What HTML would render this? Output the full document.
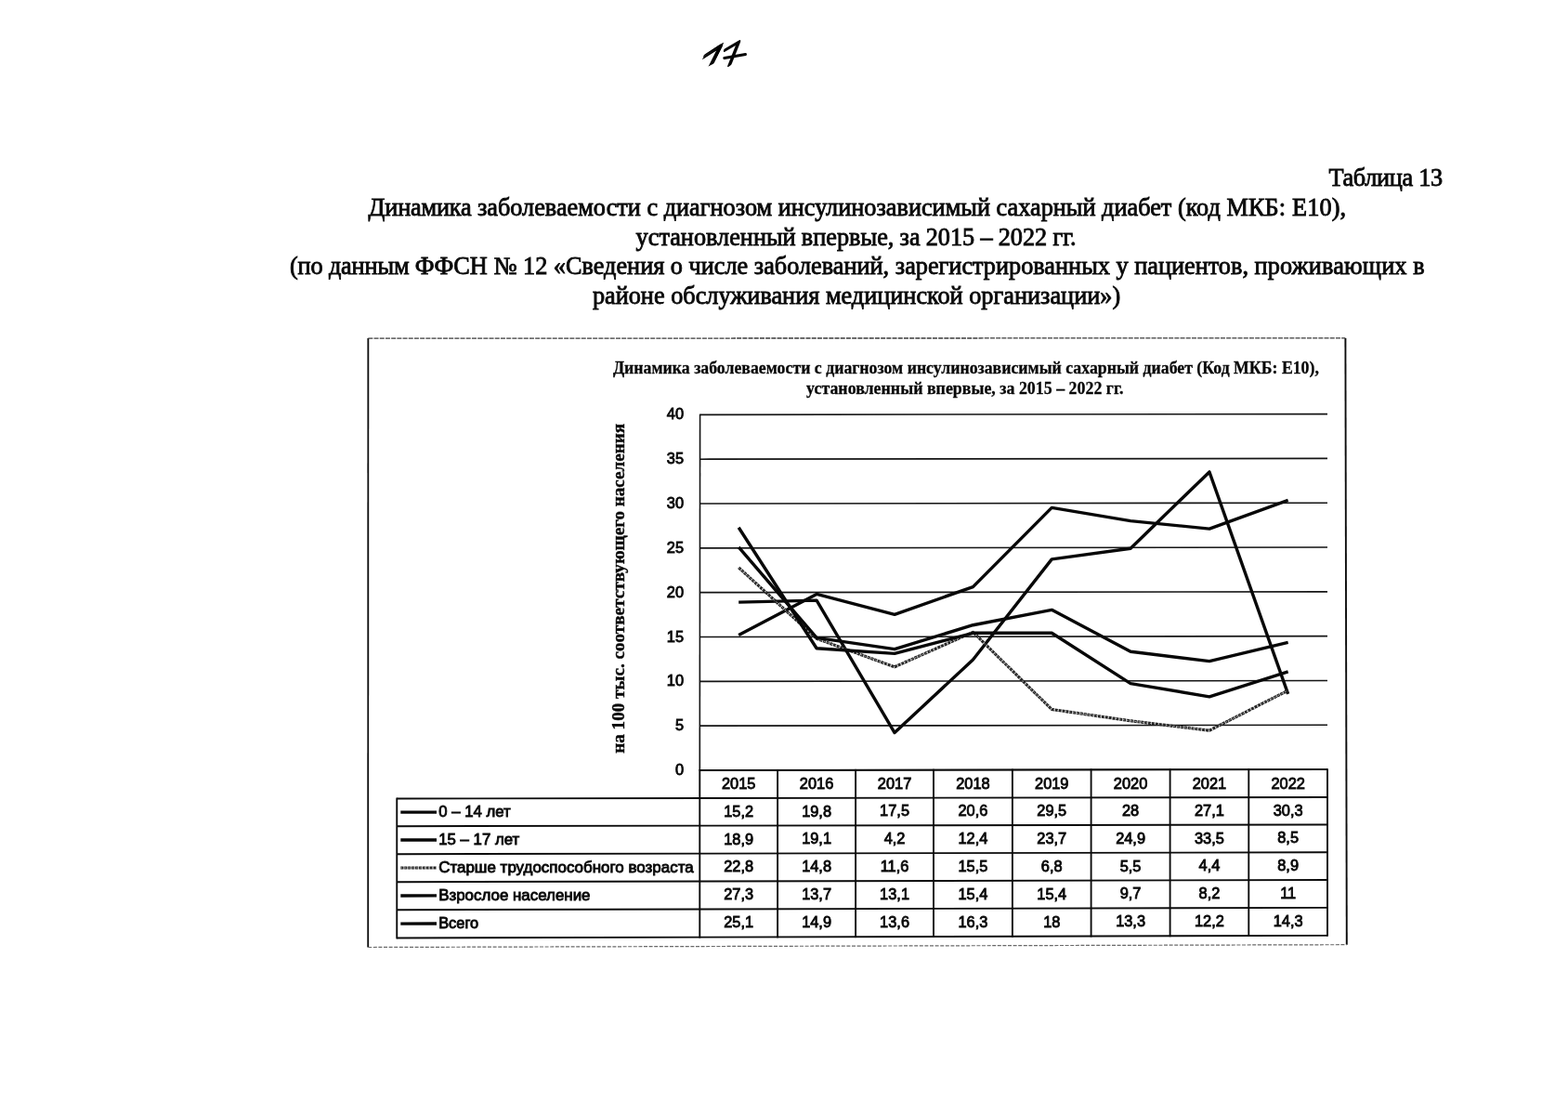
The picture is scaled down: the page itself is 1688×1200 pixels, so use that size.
<!DOCTYPE html>
<html lang="ru">
<head>
<meta charset="utf-8">
<title>Таблица 13</title>
<style>
html,body{margin:0;padding:0;background:#fff;}
body{width:1688px;height:1200px;position:relative;overflow:hidden;font-family:"Liberation Serif",serif;color:#111;}
.hd{position:absolute;margin:0;white-space:nowrap;font-size:26.285px;line-height:32px;font-weight:normal;color:#0a0a0a;-webkit-text-stroke:0.85px #0a0a0a;}
svg{position:absolute;left:0;top:0;}
.grid line{stroke:#141414;stroke-width:1.6;}
.tbl line{stroke:#0c0c0c;stroke-width:1.9;}
.ser polyline{fill:none;stroke:#080808;stroke-width:3.4;stroke-linejoin:round;stroke-linecap:butt;}
.ser .dim{stroke:#242424;stroke-width:3.1;stroke-dasharray:3.2 0.7;}
.ser .dimc{stroke:#bdbdbd;stroke-width:0.9;stroke-dasharray:1.6 2.6;}
.lab{font-family:"Liberation Sans",sans-serif;font-size:16.4px;fill:#080808;stroke:#080808;stroke-width:0.85;}
.ttl{font-family:"Liberation Serif",serif;font-weight:bold;font-size:18.2px;fill:#080808;stroke:#080808;stroke-width:0.3;}
.ttl.v{stroke-width:0.4;}
.pageno{font-family:"DejaVu Sans",sans-serif;}
</style>
</head>
<body>
<svg class="pn" width="1688" height="1200" viewBox="0 0 1688 1200">
<defs>
<clipPath id="nofoot"><rect transform="matrix(2.4667 -1.2833 -0.6017 1.2027 738.33 87.95)" x="-10" y="-40" width="60" height="35.6"/></clipPath>
<filter id="pen" x="-20%" y="-20%" width="140%" height="140%"><feOffset in="SourceGraphic" dx="-0.94" dy="1.88" result="a"/><feOffset in="SourceGraphic" dx="-0.47" dy="0.94" result="b"/><feOffset in="SourceGraphic" dx="0.47" dy="-0.94" result="c"/><feOffset in="SourceGraphic" dx="0.94" dy="-1.88" result="d"/><feMerge><feMergeNode in="a"/><feMergeNode in="b"/><feMergeNode in="SourceGraphic"/><feMergeNode in="c"/><feMergeNode in="d"/></feMerge></filter>
</defs>
<g class="pageno" font-weight="200" font-size="30" fill="#050505" stroke="#050505" stroke-linejoin="round">
<g filter="url(#pen)" clip-path="url(#nofoot)"><text transform="matrix(2.4667 -1.2833 -0.6017 1.2027 738.33 87.95)" stroke-width="0.25">1</text></g><text transform="matrix(1.1567 -0.6767 -0.0140 0.8990 777.35 74.77)" stroke-width="2.5">7</text>
<line x1="779.8" y1="62.6" x2="802.5" y2="58.5" stroke-width="3" stroke-linecap="round"/>
</g>
</svg>
<p class="hd" style="left:1430.4px;top:175.6px;letter-spacing:-0.3px">Таблица 13</p>
<p class="hd" style="left:396.5px;top:207.6px"><span style="letter-spacing:-0.17px">Динамика </span>заболеваемости с диагнозом инсулинозависимый сахарный диабет (код <span style="letter-spacing:0.15px">МКБ: Е10),</span></p>
<p class="hd" style="left:684.6px;top:239.6px;word-spacing:-0.4px">установленный впервые, за 2015 – 2022 гг.</p>
<p class="hd" style="left:312px;top:270.6px"><span style="letter-spacing:-0.15px">(по данным </span>ФФСН № 12 «Сведения о числе заболеваний, зарегистрированных у пациентов, <span style="letter-spacing:0.13px">проживающих в</span></p>
<p class="hd" style="left:637.9px;top:302.1px;transform:translateY(0.5px)">районе обслуживания медицинской организации»)</p>
<svg width="1688" height="1200" viewBox="0 0 1688 1200">
<g class="frame" fill="none">
<line x1="396.35" y1="364.1" x2="396.2" y2="1019.5" stroke="#0c0c0c" stroke-width="1.8"/>
<line x1="1448.4" y1="363.9" x2="1449.8" y2="1016.7" stroke="#0c0c0c" stroke-width="1.9"/>
<line x1="396.35" y1="364.1" x2="1448.4" y2="363.9" stroke="#3a3a3a" stroke-width="1.3" stroke-dasharray="5 1.2"/>
<line x1="396.2" y1="1019.5" x2="1449.8" y2="1016.7" stroke="#6a6a6a" stroke-width="1.2" stroke-dasharray="4 1.6"/>
</g>
<text class="ttl" x="1039.9" y="401.9" text-anchor="middle" textLength="760" lengthAdjust="spacingAndGlyphs">Динамика заболеваемости с диагнозом инсулинозависимый сахарный диабет (Код МКБ: Е10),</text>
<text class="ttl" x="1038.8" y="423.5" text-anchor="middle" textLength="341.5" lengthAdjust="spacingAndGlyphs">установленный впервые, за 2015 – 2022 гг.</text>
<text class="ttl v" transform="translate(672 810.8) rotate(-90)" x="0" y="0" textLength="355" lengthAdjust="spacingAndGlyphs">на 100 тыс. соответствующего населения</text>
<g class="grid">
<line x1="753.5" y1="829" x2="1429" y2="828.1"/>
<line x1="753.5" y1="781.17" x2="1429" y2="780.29"/>
<line x1="753.5" y1="733.34" x2="1429" y2="732.48"/>
<line x1="753.5" y1="685.51" x2="1429" y2="684.67"/>
<line x1="753.5" y1="637.67" x2="1429" y2="636.85"/>
<line x1="753.5" y1="589.84" x2="1429" y2="589.04"/>
<line x1="753.5" y1="542.01" x2="1429" y2="541.23"/>
<line x1="753.5" y1="494.18" x2="1429" y2="493.42"/>
<line x1="753.5" y1="446.35" x2="1429" y2="445.61"/>
<line x1="753.6" y1="445.65" x2="753.3" y2="829.5"/>
</g>
<g class="lab" text-anchor="end">
<text x="736" y="834">0</text>
<text x="736" y="786.17">5</text>
<text x="736" y="738.34">10</text>
<text x="736" y="690.51">15</text>
<text x="736" y="642.67">20</text>
<text x="736" y="594.84">25</text>
<text x="736" y="547.01">30</text>
<text x="736" y="499.18">35</text>
<text x="736" y="451.35">40</text>
</g>
<g class="ser">
<polyline points="795.2,683.54 879.1,639.44 963.05,661.33 1047.45,631.58 1132.25,546.36 1217.1,560.6 1301.95,569.11 1386.65,538.41"/>
<polyline points="795.2,648.15 879.1,646.13 963.05,788.55 1047.45,710.01 1132.25,601.83 1217.1,590.25 1301.95,507.91 1386.65,746.88"/>
<polyline class="dim" points="795.2,610.84 879.1,687.26 963.05,717.77 1047.45,680.36 1132.25,763.46 1217.1,775.78 1301.95,786.19 1386.65,743.05"/>
<polyline class="dimc" points="795.2,610.84 879.1,687.26 963.05,717.77 1047.45,680.36 1132.25,763.46 1217.1,775.78 1301.95,786.19 1386.65,743.05"/>
<polyline points="795.2,567.79 879.1,697.79 963.05,703.42 1047.45,681.31 1132.25,681.21 1217.1,735.62 1301.95,749.85 1386.65,722.97"/>
<polyline points="795.2,588.84 879.1,686.31 963.05,698.64 1047.45,672.71 1132.25,656.34 1217.1,701.19 1301.95,711.6 1386.65,691.41"/>
</g>
<g class="tbl">
<line x1="753.5" y1="829" x2="1429" y2="828.1"/>
<line x1="427.25" y1="859.49" x2="1429" y2="857.99"/>
<line x1="427.25" y1="889.21" x2="1429" y2="887.49"/>
<line x1="427.25" y1="919.23" x2="1429" y2="917.29"/>
<line x1="427.25" y1="949.2" x2="1429" y2="947.04"/>
<line x1="427.25" y1="979.23" x2="1429" y2="976.85"/>
<line x1="427.25" y1="1009.5" x2="1429" y2="1006.9"/>
<line x1="427.25" y1="858.59" x2="427.25" y2="1010.4"/>
<line x1="753.3" y1="828.1" x2="753.3" y2="1009.55"/>
<line x1="837.1" y1="827.99" x2="837.1" y2="1009.33"/>
<line x1="921.1" y1="827.88" x2="921.1" y2="1009.11"/>
<line x1="1005" y1="827.77" x2="1005" y2="1008.9"/>
<line x1="1089.9" y1="827.65" x2="1089.9" y2="1008.68"/>
<line x1="1174.6" y1="827.54" x2="1174.6" y2="1008.46"/>
<line x1="1259.6" y1="827.43" x2="1259.6" y2="1008.24"/>
<line x1="1344.3" y1="827.31" x2="1344.3" y2="1008.02"/>
<line x1="1429" y1="827.2" x2="1429" y2="1007.8"/>
</g>
<g class="ser">
<polyline points="431.3,874.14 470,874.08"/>
<polyline points="431.3,904.01 470,903.94"/>
<polyline class="dim" points="431.3,934.01 470,933.93"/>
<polyline class="dimc" points="431.3,934.01 470,933.93"/>
<polyline points="431.3,964.01 470,963.92"/>
<polyline points="431.3,994.15 470,994.05"/>
</g>
<g class="lab">
<text x="795.2" y="849.44" text-anchor="middle">2015</text>
<text x="879.1" y="849.32" text-anchor="middle">2016</text>
<text x="963.05" y="849.2" text-anchor="middle">2017</text>
<text x="1047.45" y="849.07" text-anchor="middle">2018</text>
<text x="1132.25" y="848.95" text-anchor="middle">2019</text>
<text x="1217.1" y="848.83" text-anchor="middle">2020</text>
<text x="1301.95" y="848.71" text-anchor="middle">2021</text>
<text x="1386.65" y="848.58" text-anchor="middle">2022</text>
<text x="472.2" y="879.29" textLength="77.5" lengthAdjust="spacingAndGlyphs">0 – 14 лет</text>
<text x="795.2" y="878.76" text-anchor="middle">15,2</text>
<text x="879.1" y="878.62" text-anchor="middle">19,8</text>
<text x="963.05" y="878.48" text-anchor="middle">17,5</text>
<text x="1047.45" y="878.34" text-anchor="middle">20,6</text>
<text x="1132.25" y="878.2" text-anchor="middle">29,5</text>
<text x="1217.1" y="878.06" text-anchor="middle">28</text>
<text x="1301.95" y="877.92" text-anchor="middle">27,1</text>
<text x="1386.65" y="877.78" text-anchor="middle">30,3</text>
<text x="472.2" y="909.15" textLength="87" lengthAdjust="spacingAndGlyphs">15 – 17 лет</text>
<text x="795.2" y="908.55" text-anchor="middle">18,9</text>
<text x="879.1" y="908.39" text-anchor="middle">19,1</text>
<text x="963.05" y="908.23" text-anchor="middle">4,2</text>
<text x="1047.45" y="908.08" text-anchor="middle">12,4</text>
<text x="1132.25" y="907.92" text-anchor="middle">23,7</text>
<text x="1217.1" y="907.76" text-anchor="middle">24,9</text>
<text x="1301.95" y="907.6" text-anchor="middle">33,5</text>
<text x="1386.65" y="907.44" text-anchor="middle">8,5</text>
<text x="472.2" y="939.14" textLength="274.5" lengthAdjust="spacingAndGlyphs">Старше трудоспособного возраста</text>
<text x="795.2" y="938.46" text-anchor="middle">22,8</text>
<text x="879.1" y="938.29" text-anchor="middle">14,8</text>
<text x="963.05" y="938.11" text-anchor="middle">11,6</text>
<text x="1047.45" y="937.94" text-anchor="middle">15,5</text>
<text x="1132.25" y="937.76" text-anchor="middle">6,8</text>
<text x="1217.1" y="937.58" text-anchor="middle">5,5</text>
<text x="1301.95" y="937.41" text-anchor="middle">4,4</text>
<text x="1386.65" y="937.23" text-anchor="middle">8,9</text>
<text x="472.2" y="969.12" textLength="163.3" lengthAdjust="spacingAndGlyphs">Взрослое население</text>
<text x="795.2" y="968.38" text-anchor="middle">27,3</text>
<text x="879.1" y="968.19" text-anchor="middle">13,7</text>
<text x="963.05" y="967.99" text-anchor="middle">13,1</text>
<text x="1047.45" y="967.8" text-anchor="middle">15,4</text>
<text x="1132.25" y="967.6" text-anchor="middle">15,4</text>
<text x="1217.1" y="967.41" text-anchor="middle">9,7</text>
<text x="1301.95" y="967.21" text-anchor="middle">8,2</text>
<text x="1386.65" y="967.02" text-anchor="middle">11</text>
<text x="472.2" y="999.26" textLength="43" lengthAdjust="spacingAndGlyphs">Всего</text>
<text x="795.2" y="998.44" text-anchor="middle">25,1</text>
<text x="879.1" y="998.23" text-anchor="middle">14,9</text>
<text x="963.05" y="998.02" text-anchor="middle">13,6</text>
<text x="1047.45" y="997.81" text-anchor="middle">16,3</text>
<text x="1132.25" y="997.59" text-anchor="middle">18</text>
<text x="1217.1" y="997.38" text-anchor="middle">13,3</text>
<text x="1301.95" y="997.17" text-anchor="middle">12,2</text>
<text x="1386.65" y="996.95" text-anchor="middle">14,3</text>
</g>
</svg>
</body>
</html>
